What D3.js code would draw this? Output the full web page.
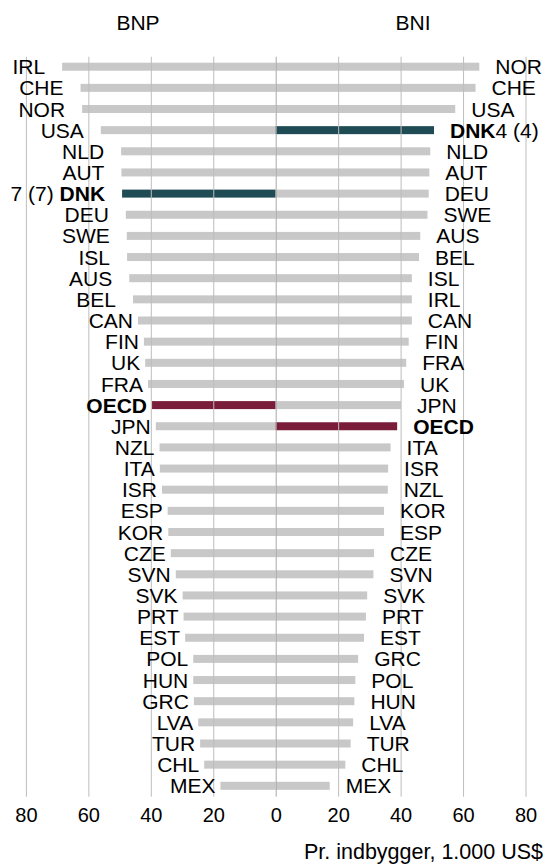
<!DOCTYPE html>
<html>
<head>
<meta charset="UTF-8">
<title>BNP og BNI pr. indbygger</title>
<script src="https://d3js.org/d3.v7.min.js"></script>
<style>
  body { margin: 0; background: #fff; }
  text { font-family: "Liberation Sans", Arial, sans-serif; fill: #000; }
</style>
</head>
<body>
<div id="chart"></div>
<script>

// data, 1.000 US$ per inhabitant

var bnpCountries = ["IRL","CHE","NOR","USA","NLD","AUT","DNK","DEU","SWE","ISL","AUS","BEL",
  "CAN","FIN","UK","FRA","OECD","JPN","NZL","ITA","ISR","ESP","KOR","CZE","SVN","SVK",
  "PRT","EST","POL","HUN","GRC","LVA","TUR","CHL","MEX"]
var bnpValues = [68.4,62.5,62.0,56.0,49.5,49.4,49.2,48.0,47.7,47.6,46.9,45.7,
  44.1,42.2,41.8,40.9,39.6,38.4,37.2,37.1,36.4,34.6,34.4,33.6,32.0,29.8,
  29.5,29.0,26.4,26.4,26.2,24.8,24.2,22.9,17.7]

var bniCountries = ["NOR","CHE","USA","DNK","NLD","AUT","DEU","SWE","AUS","BEL","ISL","IRL",
  "CAN","FIN","FRA","UK","JPN","OECD","ITA","ISR","NZL","KOR","ESP","CZE","SVN","SVK",
  "PRT","EST","GRC","POL","HUN","LVA","TUR","CHL","MEX"]
var bniValues = [65.2,64.0,57.5,50.7,49.5,49.2,49.0,48.6,46.3,45.9,43.6,43.6,
  43.6,42.6,41.8,41.1,40.1,38.9,36.8,36.0,35.9,34.7,34.7,31.5,31.3,29.3,
  28.9,28.3,26.4,25.5,25.2,24.8,24.0,22.3,17.3]

var ranks = { bnp: "7 (7)", bni: "4 (4)" }
var ticks = [0, 20, 40, 60, 80]

// layout

var width = 547, height = 866
var zeroX = 275.7
var gridTop = 56.7, axisY = 796.7
var labelSize = 21

var colors = { DNK: "#1f4b55", OECD: "#7a1d3b" }
var grey = "#c8c8c8"

var svg = d3.select("#chart").append("svg")
  .attr("width", width)
  .attr("height", height)

var xLeft  = d3.scaleLinear().domain([0, 80]).range([zeroX, 25.9])
var xRight = d3.scaleLinear().domain([0, 80]).range([zeroX, 525.5])
var y = d3.scalePoint().domain(d3.range(bnpCountries.length)).range([66.7, 785.8])

var barH = 8

function barColor(c) { return colors[c] || grey }

// bars, left side (BNP)
svg.append("g").selectAll("rect")
  .data(bnpCountries).enter()
  .append("rect")
    .attr("x", function(d, i) { return xLeft(bnpValues[i]) })
    .attr("y", function(d, i) { return y(i) - barH / 2 })
    .attr("width", function(d, i) { return zeroX - xLeft(bnpValues[i]) })
    .attr("height", barH)
    .attr("fill", barColor)

// bars, right side (BNI)
svg.append("g").selectAll("rect")
  .data(bniCountries).enter()
  .append("rect")
    .attr("x", zeroX)
    .attr("y", function(d, i) { return y(i) - barH / 2 })
    .attr("width", function(d, i) { return xRight(bniValues[i]) - zeroX })
    .attr("height", barH)
    .attr("fill", barColor)

// axes with gridlines drawn on top of the bars
function styleAxis(g) {
  g.select(".domain").remove()
  g.selectAll(".tick line").attr("stroke", "#bdbdbd").attr("stroke-width", 1)
  g.selectAll(".tick text")
    .attr("font-size", 20)
    .attr("font-family", "Liberation Sans, Arial, sans-serif")
    .attr("fill", "#000")
}

svg.append("g")
  .attr("transform", "translate(0," + axisY + ")")
  .call(d3.axisBottom(xLeft).tickValues(ticks).tickSize(-(axisY - gridTop)).tickPadding(11))
  .call(styleAxis)

svg.append("g")
  .attr("transform", "translate(0," + axisY + ")")
  .call(d3.axisBottom(xRight).tickValues(ticks.slice(1)).tickSize(-(axisY - gridTop)).tickPadding(11))
  .call(styleAxis)

svg.selectAll(".tick line")
  .filter(function(d) { return d === 0 })
  .attr("stroke", "#a8a8a8")

// country labels, left
var leftLabels = svg.append("g").selectAll("text")
  .data(bnpCountries).enter()
  .append("text")
    .attr("x", function(d, i) { return xLeft(bnpValues[i]) - (i < 12 ? 17 : 5) })
    .attr("y", function(d, i) { return y(i) })
    .attr("dy", "0.36em")
    .attr("text-anchor", "end")
    .attr("font-size", labelSize)

leftLabels.each(function(d) {
  var t = d3.select(this)
  if (d === "DNK") {
    t.append("tspan").text(ranks.bnp + " ")
    t.append("tspan").attr("font-weight", "bold").text(d)
  } else if (d === "OECD") {
    t.append("tspan").attr("font-weight", "bold").text(d)
  } else {
    t.text(d)
  }
})

// country labels, right
var rightLabels = svg.append("g").selectAll("text")
  .data(bniCountries).enter()
  .append("text")
    .attr("x", function(d, i) { return xRight(bniValues[i]) + 16 })
    .attr("y", function(d, i) { return y(i) })
    .attr("dy", "0.36em")
    .attr("text-anchor", "start")
    .attr("font-size", labelSize)

rightLabels.each(function(d) {
  var t = d3.select(this)
  if (d === "DNK") {
    t.append("tspan").attr("font-weight", "bold").text(d)
    t.append("tspan").text(ranks.bni)
  } else if (d === "OECD") {
    t.append("tspan").attr("font-weight", "bold").text(d)
  } else {
    t.text(d)
  }
})

// titles
svg.append("text")
  .attr("x", 138).attr("y", 22).attr("dy", "0.36em")
  .attr("text-anchor", "middle").attr("font-size", 21)
  .text("BNP")

svg.append("text")
  .attr("x", 413).attr("y", 22).attr("dy", "0.36em")
  .attr("text-anchor", "middle").attr("font-size", 21)
  .text("BNI")

// unit note
svg.append("text")
  .attr("x", 543).attr("y", 851).attr("dy", "0.36em")
  .attr("text-anchor", "end").attr("font-size", 21.5)
  .text("Pr. indbygger, 1.000 US$")

</script>
</body>
</html>
